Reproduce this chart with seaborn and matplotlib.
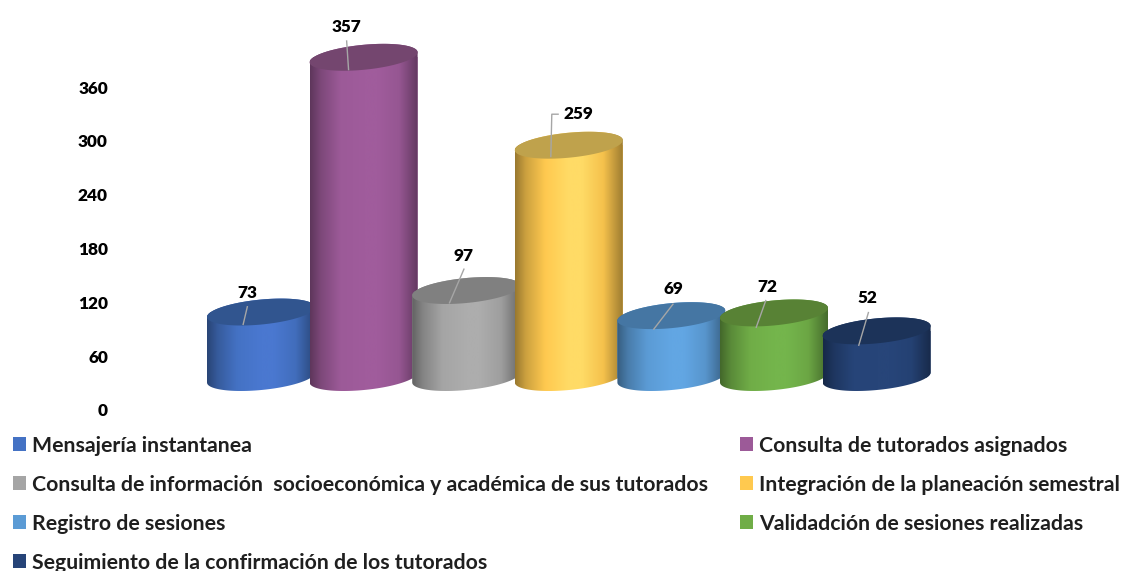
import numpy as np
import pandas as pd
import matplotlib
matplotlib.use("Agg")
import matplotlib.pyplot as plt
from matplotlib.path import Path
from matplotlib.patches import PathPatch
from matplotlib.transforms import IdentityTransform
import seaborn as sns

categories = [
    "Mensajería instantanea",
    "Consulta de tutorados asignados",
    "Consulta de información  socioeconómica y académica de sus tutorados",
    "Integración de la planeación semestral",
    "Registro de sesiones",
    "Validadción de sesiones realizadas",
    "Seguimiento de la confirmación de los tutorados",
]
values = [73, 357, 97, 259, 69, 72, 52]
yticks = [0, 60, 120, 180, 240, 300, 360]

body_colors = ["#4a78d0", "#a05c9c", "#adadad", "#ffdb66", "#62a6e3", "#74b54c", "#274579"]
top_colors = ["#31558f", "#74466f", "#808080", "#bfa24c", "#4576a3", "#588235", "#1c3359"]
legend_colors = ["#4472c4", "#9c5a98", "#a5a5a5", "#ffc94f", "#5b9bd5", "#70ad47", "#264478"]

# label layout, pixels relative to the centre of each cylinder's top
label_xy = [(-14, -19), (-17, -30), (-3, -35), (10, -31), (2, -27), (-7, -26), (-9, -33)]
leader_from = [(-13.5, -6), (-17, -17), (-2, -22), (-10, -31), (2, -12), (-8, -13), (-8, -19)]
leader_to = [(-18, 13), (-15, 13), (-17, 13), (-18, 12), (-18, 14), (-18, 15), (-18, 15)]

W, H = 1122, 571
PX_X = 102.6      # pixels per category
PX_Y = 0.897      # pixels per value unit
BASE = 36.2       # floor of the cylinders above the axis zero, in value units
AX_LEFT, AX_BOTTOM = 110, 410

sns.set_theme(style="white")
plt.rcParams["font.family"] = ["Lato", "DejaVu Sans"]

fig = plt.figure(figsize=(W / 100, H / 100), dpi=100)
ax = fig.add_axes([AX_LEFT / W, 1 - AX_BOTTOM / H, (W - AX_LEFT) / W, AX_BOTTOM / H])
ax.patch.set_alpha(0)

df = pd.DataFrame({"Tipo": categories, "Valor": values})
sns.barplot(data=df, x="Tipo", y="Valor", hue="Tipo", order=categories, hue_order=categories,
            palette=dict(zip(categories, legend_colors)), dodge=False, width=108 / PX_X,
            ax=ax, legend=True, saturation=1, linewidth=0)

x0 = (AX_LEFT - 261) / PX_X
ax.set_xlim(x0, x0 + (W - AX_LEFT) / PX_X)
ax.set_ylim(0, AX_BOTTOM / PX_Y)
ax.set_xlabel("")
ax.set_ylabel("")
ax.set_xticks([])
ax.set_yticks(yticks)
ax.set_yticklabels([str(t) for t in yticks], fontsize=12.4, fontweight="heavy", color="black")
ax.tick_params(axis="y", length=0, pad=1.5)
sns.despine(ax=ax, left=True, bottom=True, top=True, right=True)

frac = np.linspace(0, 1, 256)
T = np.linspace(0, 2 * np.pi, 121)


def shading(body, side):
    """Horizontal cylinder shading: dark rim, side colour, highlight in the middle."""
    stops = [0.0, 0.1, 0.28, 0.5, 0.62, 0.82, 1.0]
    ramp = [0.6 * side, 0.8 * side, side, body, body, 0.96 * side, 0.62 * side]
    return np.column_stack([np.interp(frac, stops, [c[k] for c in ramp]) for k in range(3)])


def ring(cx, cy, a, t):
    tilt, b = 5.0, 12.5
    return np.column_stack([cx + a * np.cos(t), cy + tilt * np.cos(t) + b * np.sin(t)])


bars = [c[0] for c in ax.containers]
for i, bar in enumerate(bars):
    bar.set_y(BASE)
    left, w = bar.get_x(), bar.get_width()
    cx = left + w / 2
    base_px = ax.transData.transform((cx, bar.get_y()))
    top_px = ax.transData.transform((cx, bar.get_y() + bar.get_height()))
    a = w * PX_X / 2
    lower = ring(base_px[0], base_px[1], a, np.linspace(np.pi, 2 * np.pi, 61))
    upper = ring(top_px[0], top_px[1], a, np.linspace(0, np.pi, 61))
    outline = Path(np.vstack([lower, upper, lower[0]]), closed=True)
    z = 3 + 3 * i
    bar.set_clip_path(outline, IdentityTransform())
    bar.set_zorder(z)
    grad = shading(np.array(matplotlib.colors.to_rgb(body_colors[i])),
                   np.array(matplotlib.colors.to_rgb(legend_colors[i])))[None, :, :]
    im = ax.imshow(grad, extent=(left, left + w, 0, AX_BOTTOM / PX_Y), aspect="auto",
                   zorder=z + 1, interpolation="bilinear", origin="lower")
    im.set_clip_path(outline, IdentityTransform())
    cap = ring(top_px[0], top_px[1], a, T)
    ax.add_patch(PathPatch(Path(cap, closed=True), transform=IdentityTransform(),
                           facecolor=top_colors[i], edgecolor="none", zorder=z + 2))

ax.set_xlim(x0, x0 + (W - AX_LEFT) / PX_X)
ax.set_ylim(0, AX_BOTTOM / PX_Y)

for i, bar in enumerate(bars):
    cx = bar.get_x() + bar.get_width() / 2
    top = bar.get_y() + bar.get_height()
    to_x = lambda d: cx + d / PX_X
    to_y = lambda d: top - d / PX_Y
    lx = [to_x(leader_from[i][0]), to_x(leader_to[i][0])]
    ly = [to_y(leader_from[i][1]), to_y(leader_to[i][1])]
    if values[i] == 259:
        lx = [to_x(-10), to_x(-17), to_x(-18)]
        ly = [to_y(-31), to_y(-31), to_y(12)]
    ax.plot(lx, ly, color="#a6a6a6", lw=1, zorder=60, solid_capstyle="butt")
    ax.text(to_x(label_xy[i][0]), to_y(label_xy[i][1]), str(values[i]), ha="center", va="center",
            fontsize=12.4, fontweight="heavy", color="black", zorder=61)

old = ax.get_legend()
handles = old.legend_handles
old.remove()
order = [0, 2, 4, 6, 1, 3, 5]
FS = 15.35
fs_px = FS * 100 / 72
leg = fig.legend([handles[k] for k in order], [categories[k] for k in order],
                 ncol=2, loc="upper left", bbox_to_anchor=(13 / W, 1 - 435.5 / H),
                 frameon=False, borderpad=0, borderaxespad=0,
                 handlelength=13 / fs_px, handleheight=13 / fs_px, handletextpad=6 / fs_px,
                 labelspacing=(38.3 - fs_px * 0.9) / fs_px, columnspacing=32 / fs_px,
                 prop={"family": "Lato", "weight": "bold", "size": FS})
for t in leg.get_texts():
    t.set_color("#1f1f1f")

fig.savefig("out.png", dpi=100)
